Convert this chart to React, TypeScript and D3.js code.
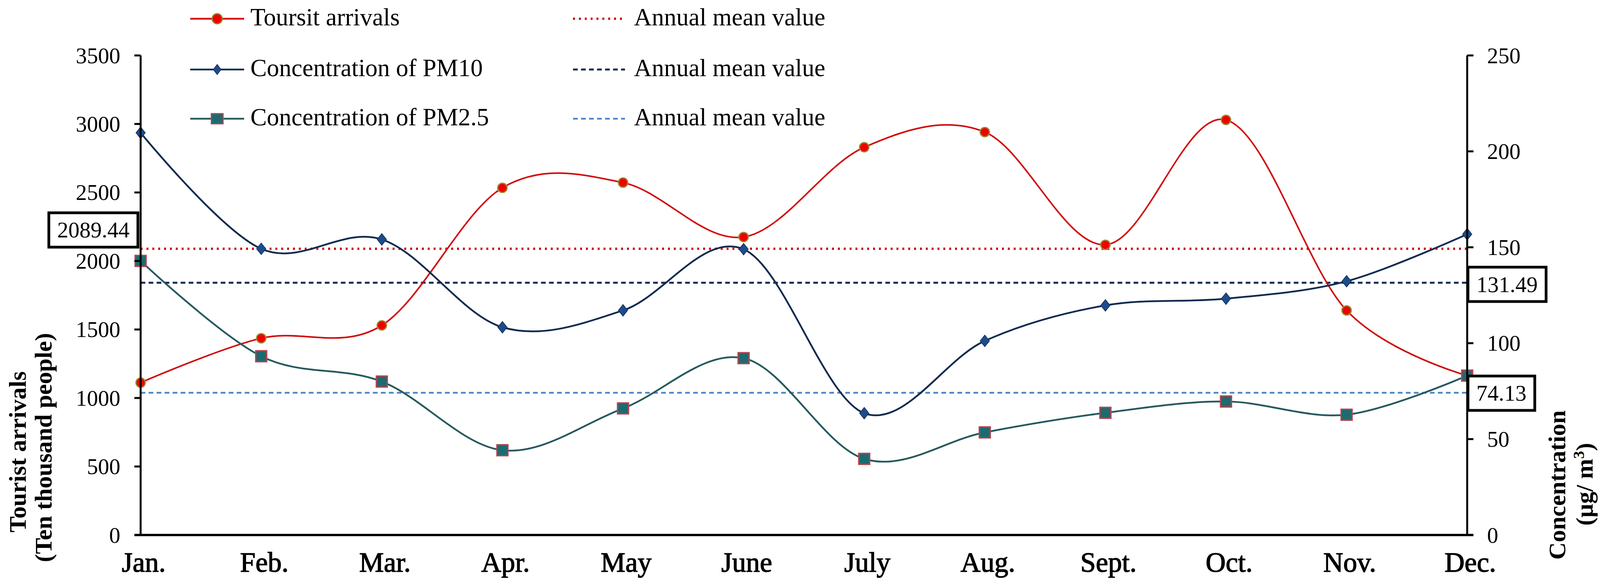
import React from "react";
import * as d3 from "d3";

// months on the x axis
const months = ["Jan.", "Feb.", "Mar.", "Apr.", "May", "June", "July", "Aug.", "Sept.", "Oct.", "Nov.", "Dec."];

// tourist arrivals, ten thousand people (left axis)
const touristArrivals = [1112, 1436, 1530, 2534, 2572, 2175, 2830, 2941, 2118, 3030, 1639, 1163];
// PM concentrations, ug/m3 (right axis)
const pm10 = [209.7, 149.2, 154.1, 108.3, 117.1, 149.0, 63.5, 101.2, 119.7, 123.2, 132.3, 156.8];
const pm25 = [142.9, 93.2, 80.0, 44.2, 66.0, 92.2, 39.7, 53.5, 63.7, 69.6, 62.7, 83.1];

// annual means shown as reference lines
const touristMean = 2089.44;
const pm10Mean = 131.49;
const pm25Mean = 74.13;

const leftTicks = [0, 500, 1000, 1500, 2000, 2500, 3000, 3500];
const rightTicks = [0, 50, 100, 150, 200, 250];

const W = 4111;
const H = 1498;
const FONT = "'Liberation Serif', 'Times New Roman', serif";

const C = {
  red: "#d10a0a",
  redFill: "#f00000",
  redEdge: "#9a8c35",
  navy: "#102a50",
  navyFill: "#1d4c8c",
  teal: "#25595e",
  tealFill: "#1d6a70",
  tealEdge: "#b04650",
  lightBlue: "#4f86bf",
};

export default function App() {
  const left = 360;
  const right = 3756;
  const top = 142;
  const bottom = 1370;

  const x = d3.scalePoint<string>().domain(months).range([left, right]);
  const yL = d3.scaleLinear().domain([0, 3500]).range([bottom, top]);
  const yR = d3.scaleLinear().domain([0, 250]).range([bottom, top]);

  // excel-style smoothed lines
  const curve = d3.curveCardinal.tension(0);
  const lineL = d3
    .line<number>()
    .x((_, i) => x(months[i])!)
    .y((d) => yL(d))
    .curve(curve);
  const lineR = d3
    .line<number>()
    .x((_, i) => x(months[i])!)
    .y((d) => yR(d))
    .curve(curve);

  const diamond = (cx: number, cy: number, w = 12, h = 15) =>
    `M${cx},${cy - h}L${cx + w},${cy}L${cx},${cy + h}L${cx - w},${cy}Z`;

  // legend rows
  const legendY = [48, 178, 304];
  const legX1 = 487;
  const legX2 = 625;
  const legMid = 556;
  const leg2X1 = 1467;
  const leg2X2 = 1600;

  const boxes = [
    { text: touristMean.toFixed(2), x0: 125, x1: 353, cy: yL(touristMean) - 48 },
    { text: pm10Mean.toFixed(2), x0: right + 2, x1: 3958, cy: yR(pm10Mean) + 4 },
    { text: pm25Mean.toFixed(2), x0: right + 2, x1: 3929, cy: yR(pm25Mean) + 1 },
  ];

  return (
    <svg
      width={W}
      height={H}
      style={{ position: "absolute", left: 0, top: 0, background: "#fff" }}
      fontFamily={FONT}
    >
      <rect width={W} height={H} fill="#fff" />

      {/* annual mean lines */}
      <line x1={left} x2={right} y1={yL(touristMean)} y2={yL(touristMean)} stroke={C.red} strokeWidth={6} strokeDasharray="5 10" />
      <line x1={left} x2={right} y1={yR(pm10Mean)} y2={yR(pm10Mean)} stroke={C.navy} strokeWidth={5} strokeDasharray="12 8.5" />
      <line x1={left} x2={right} y1={yR(pm25Mean)} y2={yR(pm25Mean)} stroke={C.lightBlue} strokeWidth={4.5} strokeDasharray="12 8.5" />

      {/* series */}
      <path d={lineL(touristArrivals)!} fill="none" stroke={C.red} strokeWidth={4} />
      <path d={lineR(pm10)!} fill="none" stroke={C.navy} strokeWidth={4.5} />
      <path d={lineR(pm25)!} fill="none" stroke={C.teal} strokeWidth={4.5} />

      {touristArrivals.map((v, i) => (
        <circle key={"t" + i} cx={x(months[i])} cy={yL(v)} r={12} fill={C.redFill} stroke={C.redEdge} strokeWidth={3} />
      ))}
      {pm10.map((v, i) => (
        <path key={"p" + i} d={diamond(x(months[i])!, yR(v))} fill={C.navyFill} stroke={C.navy} strokeWidth={1.5} />
      ))}
      {pm25.map((v, i) => (
        <rect key={"q" + i} x={x(months[i])! - 14} y={yR(v) - 14} width={28} height={28} fill={C.tealFill} stroke={C.tealEdge} strokeWidth={3.5} />
      ))}

      {/* axes */}
      <line x1={left} x2={left} y1={top} y2={bottom} stroke="#000" strokeWidth={5} />
      <line x1={right} x2={right} y1={top} y2={bottom} stroke="#000" strokeWidth={5} />
      <line x1={left - 16} x2={right + 16} y1={bottom} y2={bottom} stroke="#000" strokeWidth={6} />
      {leftTicks.map((t) => (
        <g key={"lt" + t}>
          <line x1={left - 16} x2={left} y1={yL(t)} y2={yL(t)} stroke="#000" strokeWidth={5} />
          <text x={308} y={yL(t)} textAnchor="end" dominantBaseline="central" fontSize={57}>
            {t}
          </text>
        </g>
      ))}
      {rightTicks.map((t) => (
        <g key={"rt" + t}>
          <line x1={right} x2={right + 16} y1={yR(t)} y2={yR(t)} stroke="#000" strokeWidth={5} />
          <text x={3807} y={yR(t)} textAnchor="start" dominantBaseline="central" fontSize={57}>
            {t}
          </text>
        </g>
      ))}
      {months.map((m) => (
        <text key={m} x={x(m)! + 8} y={1464} textAnchor="middle" fontSize={71} stroke="#000" strokeWidth={1.6}>
          {m}
        </text>
      ))}

      {/* axis titles */}
      <g fontWeight="bold" fontSize={62} textAnchor="middle">
        <text transform="translate(66,1157) rotate(-90)">Tourist arrivals</text>
        <text transform="translate(132,1146) rotate(-90)">(Ten thousand people)</text>
        <text transform="translate(4007,1242) rotate(-90)">Concentration</text>
        <text transform="translate(4077,1240) rotate(-90)">
          (μg/ m<tspan dy={-22} fontSize={40}>3</tspan>
          <tspan dy={22}>)</tspan>
        </text>
      </g>

      {/* value boxes */}
      {boxes.map((b) => (
        <g key={b.text}>
          <rect x={b.x0} y={b.cy - 44} width={b.x1 - b.x0} height={88} fill="#fff" stroke="#000" strokeWidth={7} />
          <text x={(b.x0 + b.x1) / 2} y={b.cy} textAnchor="middle" dominantBaseline="central" fontSize={57}>
            {b.text}
          </text>
        </g>
      ))}

      {/* legend */}
      <g fontSize={63}>
        <line x1={legX1} x2={legX2} y1={legendY[0]} y2={legendY[0]} stroke={C.red} strokeWidth={4.5} />
        <circle cx={legMid} cy={legendY[0]} r={13} fill={C.redFill} stroke={C.redEdge} strokeWidth={3} />
        <text x={641} y={legendY[0] + 17}>Toursit arrivals</text>

        <line x1={legX1} x2={legX2} y1={legendY[1]} y2={legendY[1]} stroke={C.navy} strokeWidth={4.5} />
        <path d={diamond(legMid, legendY[1], 10, 13)} fill={C.navyFill} stroke={C.navy} strokeWidth={1.5} />
        <text x={641} y={legendY[1] + 17}>Concentration of PM10</text>

        <line x1={legX1} x2={legX2} y1={legendY[2]} y2={legendY[2]} stroke={C.teal} strokeWidth={4.5} />
        <rect x={legMid - 15} y={legendY[2] - 13} width={30} height={26} fill={C.tealFill} stroke={C.tealEdge} strokeWidth={3} />
        <text x={641} y={legendY[2] + 17}>Concentration of PM2.5</text>

        <line x1={leg2X1} x2={leg2X2 - 8} y1={legendY[0]} y2={legendY[0]} stroke={C.red} strokeWidth={6} strokeDasharray="5 10" />
        <text x={1623} y={legendY[0] + 17}>Annual mean value</text>
        <line x1={leg2X1} x2={leg2X2} y1={legendY[1]} y2={legendY[1]} stroke={C.navy} strokeWidth={5} strokeDasharray="12 8.5" />
        <text x={1623} y={legendY[1] + 17}>Annual mean value</text>
        <line x1={leg2X1} x2={leg2X2} y1={legendY[2]} y2={legendY[2]} stroke={C.lightBlue} strokeWidth={4.5} strokeDasharray="12 8.5" />
        <text x={1623} y={legendY[2] + 17}>Annual mean value</text>
      </g>
    </svg>
  );
}
